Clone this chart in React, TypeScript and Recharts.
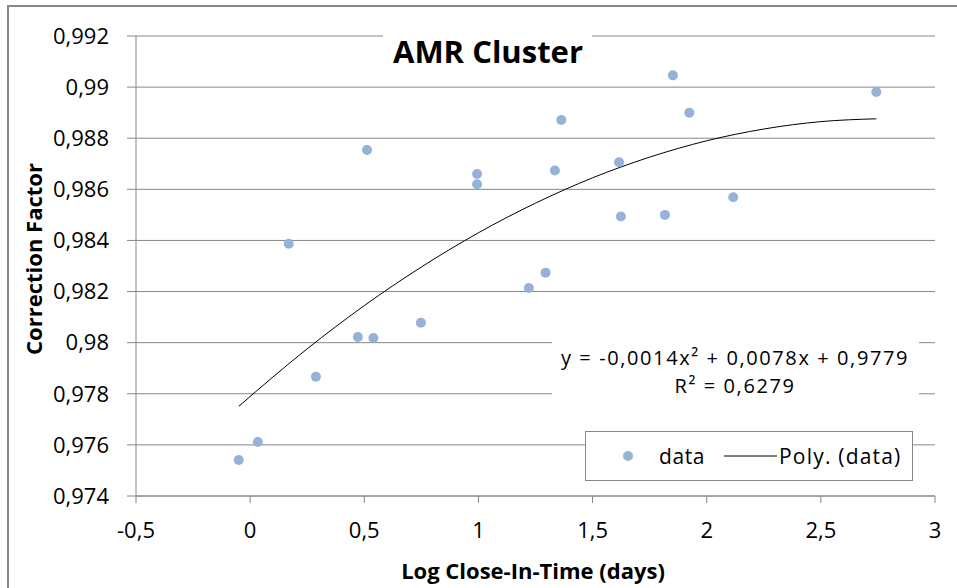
import React from 'react'
import {
  ComposedChart,
  Scatter,
  Line,
  XAxis,
  YAxis,
  CartesianGrid,
  Legend,
  Customized,
} from 'recharts'

// measured points (log close-in-time vs correction factor)
const logDays = [
  -0.05, 0.034, 0.169, 0.288, 0.472, 0.512, 0.54, 0.748, 0.994, 0.994, 1.221,
  1.294, 1.335, 1.363, 1.616, 1.624, 1.817, 1.852, 1.924, 2.116, 2.743,
]
const corrFactor = [
  0.97541, 0.97611, 0.98387, 0.97867, 0.98022, 0.98754, 0.98018, 0.98078,
  0.9866, 0.9862, 0.98214, 0.98274, 0.98674, 0.98871, 0.98706, 0.98494, 0.985,
  0.99046, 0.989, 0.98569, 0.98981,
]

// poly trendline
const trendX = [-0.05, 0.25, 0.5, 0.75, 1, 1.25, 1.5, 1.75, 2, 2.25, 2.5, 2.743]
const trendY = [
  0.97751, 0.97976, 0.98145, 0.98296, 0.9843, 0.98546, 0.98645, 0.98726,
  0.9879, 0.98836, 0.98865, 0.98876,
]

const xTicks = [-0.5, 0, 0.5, 1, 1.5, 2, 2.5, 3]
const yTicks = [0.974, 0.976, 0.978, 0.98, 0.982, 0.984, 0.986, 0.988, 0.99, 0.992]

const FONT = '"Open Sans", sans-serif'
const GRAY = '#868686'
const DOT = '#95B3D7'

const points = logDays.map((x, i) => ({ x, y: corrFactor[i] }))
const trend = trendX.map((x, i) => ({ x, y: trendY[i] }))

const comma = (v: number) => String(v).replace('.', ',')

function Annotations() {
  return (
    <g fontFamily={FONT}>
      <rect x={383} y={22} width={209} height={46} fill="#fff" />
      <text x={488} y={63} textAnchor="middle" fontSize={31} fontWeight={700} fill="#000">
        AMR Cluster
      </text>
      <rect x={552} y={334} width={367} height={66} fill="#fff" />
      <text x={735} y={365} textAnchor="middle" fontSize={20} letterSpacing={1.6} fill="#000">
        y = -0,0014x² + 0,0078x + 0,9779
      </text>
      <text x={735} y={392.5} textAnchor="middle" fontSize={20} letterSpacing={1.6} fill="#000">
        R² = 0,6279
      </text>
    </g>
  )
}

function LegendBox() {
  return (
    <svg width={328} height={50} style={{ display: 'block' }}>
      <rect x={0.5} y={0.5} width={327} height={49} fill="#fff" stroke={GRAY} />
      <circle cx={43} cy={25} r={5} fill={DOT} />
      <text x={74} y={33} fontFamily={FONT} fontSize={21} letterSpacing={0.6} fill="#000">
        data
      </text>
      <line x1={139} x2={192} y1={25} y2={25} stroke="#000" strokeWidth={1} />
      <text x={194} y={33} fontFamily={FONT} fontSize={21} letterSpacing={1.2} fill="#000">
        Poly. (data)
      </text>
    </svg>
  )
}

export default function App() {
  return (
    <div
      style={{
        position: 'absolute',
        left: 0,
        top: 0,
        width: 957,
        height: 588,
        overflow: 'hidden',
        background: '#fff',
      }}
    >
      <div
        style={{
          position: 'absolute',
          left: 7,
          top: 5,
          width: 980,
          height: 620,
          border: `2px solid ${GRAY}`,
        }}
      />
      <div style={{ position: 'absolute', left: 0, top: 0 }}>
        <ComposedChart
          width={957}
          height={588}
          margin={{ top: 36, right: 22, left: 0, bottom: 32 }}
        >
          <CartesianGrid vertical={false} stroke={GRAY} strokeWidth={1} />
          <XAxis
            type="number"
            dataKey="x"
            domain={[-0.5, 3]}
            ticks={xTicks}
            tickFormatter={comma}
            height={60}
            tickSize={7}
            tickMargin={19}
            stroke={GRAY}
            tick={{ fontSize: 22, fill: '#000', fontFamily: FONT }}
            label={{
              content: () => (
                <text
                  x={533}
                  y={579}
                  textAnchor="middle"
                  fontFamily={FONT}
                  fontSize={22}
                  fontWeight={700}
                  fill="#000"
                >
                  Log Close-In-Time (days)
                </text>
              ),
            }}
          />
          <YAxis
            type="number"
            dataKey="y"
            domain={[0.974, 0.992]}
            ticks={yTicks}
            tickFormatter={comma}
            width={136}
            tickSize={9}
            tickMargin={18}
            stroke={GRAY}
            tick={{ fontSize: 22, fill: '#000', fontFamily: FONT }}
            label={{
              content: () => (
                <text
                  x={42}
                  y={259}
                  transform="rotate(-90 42 259)"
                  textAnchor="middle"
                  fontFamily={FONT}
                  fontSize={22}
                  fontWeight={700}
                  fill="#000"
                >
                  Correction Factor
                </text>
              ),
            }}
          />
          <Customized component={Annotations} />
          <Line
            data={trend}
            dataKey="y"
            type="monotone"
            stroke="#000"
            strokeWidth={1}
            dot={false}
            activeDot={false}
            isAnimationActive={false}
          />
          <Scatter
            data={points}
            dataKey="y"
            fill={DOT}
            shape={(p: any) => <circle cx={p.cx} cy={p.cy} r={5} fill={DOT} />}
            isAnimationActive={false}
          />
          <Legend
            layout="horizontal"
            verticalAlign="middle"
            align="center"
            wrapperStyle={{ left: 585, top: 431, width: 328, height: 50 }}
            content={() => <LegendBox />}
          />
        </ComposedChart>
      </div>
    </div>
  )
}
